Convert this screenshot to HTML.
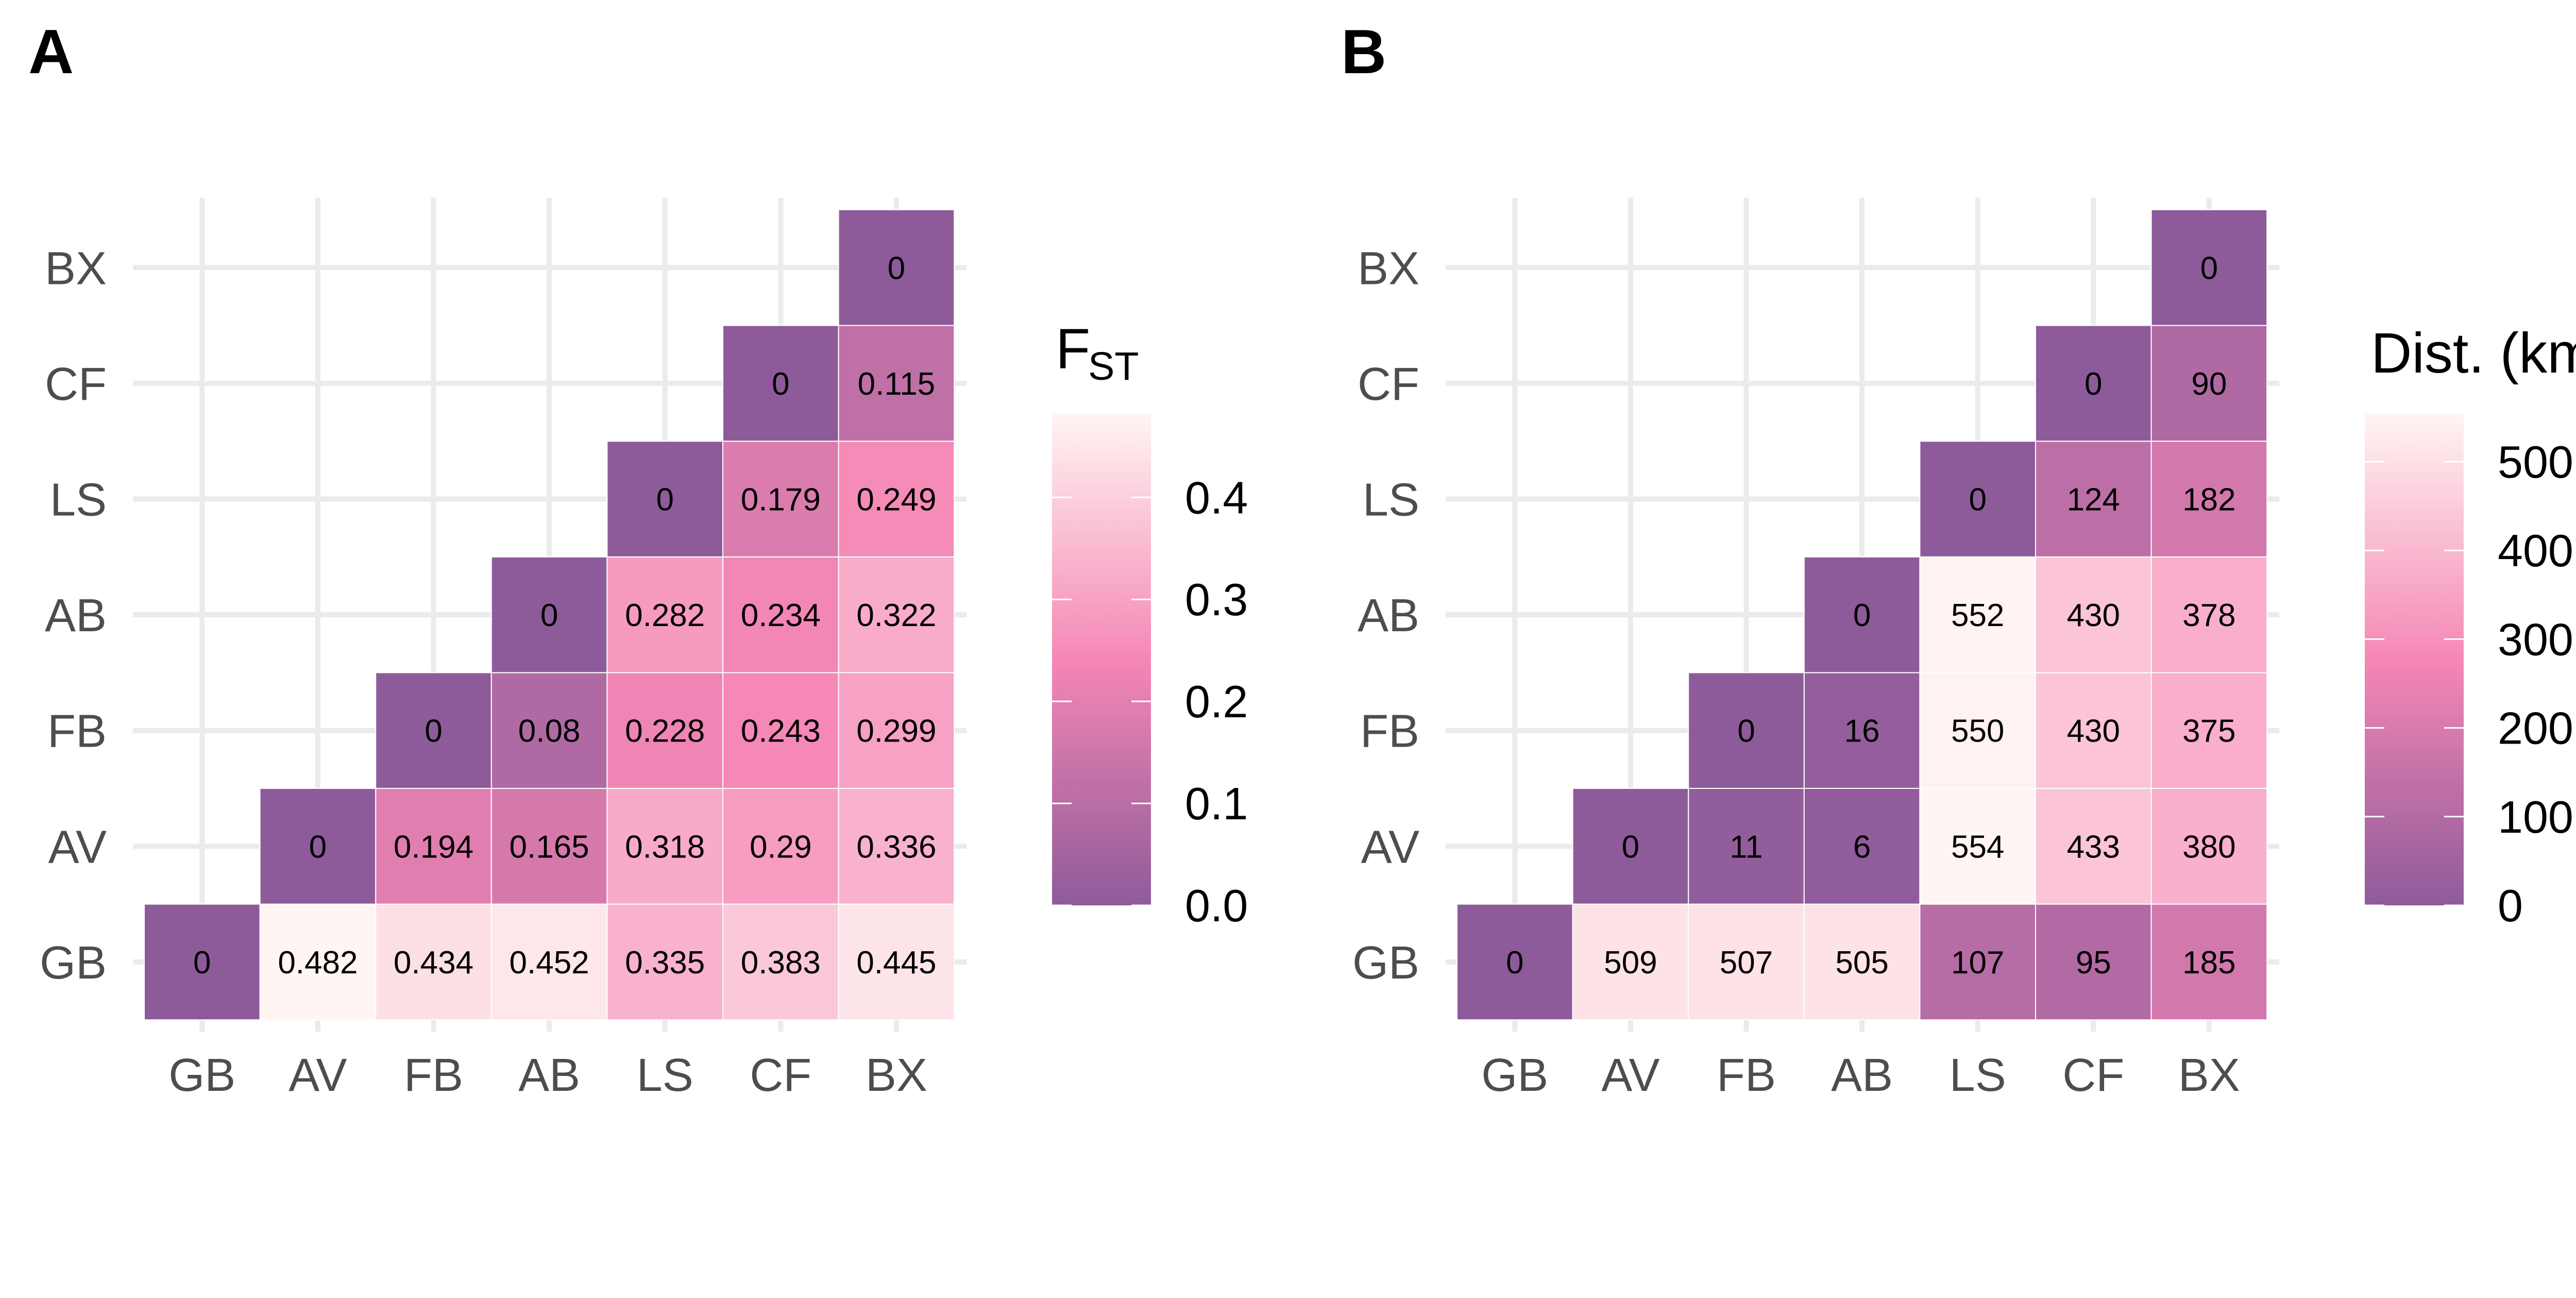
<!DOCTYPE html>
<html><head><meta charset="utf-8"><style>
html,body{margin:0;padding:0;background:#fff;}
svg{display:block;font-family:"Liberation Sans",sans-serif;}
</style></head><body>
<svg id="fig" xmlns="http://www.w3.org/2000/svg" width="5196" height="2519" viewBox="0 0 5196 2519">
<defs>
<linearGradient id="gradA" x1="0" y1="1" x2="0" y2="0">
<stop offset="0" stop-color="#8e5b9a"/><stop offset="0.5" stop-color="#f587b5"/><stop offset="1" stop-color="#fff5f2"/>
</linearGradient>
</defs>
<rect width="5196" height="2519" fill="#fff"/>
</svg>
<script>
const pops = ["GB","AV","FB","AB","LS","CF","BX"];
const fstRows = [
 [0,0.482,0.434,0.452,0.335,0.383,0.445],
 [0,0.194,0.165,0.318,0.29,0.336],
 [0,0.08,0.228,0.243,0.299],
 [0,0.282,0.234,0.322],
 [0,0.179,0.249],
 [0,0.115],
 [0]
];
const fstLabels = [
 ["0","0.482","0.434","0.452","0.335","0.383","0.445"],
 ["0","0.194","0.165","0.318","0.29","0.336"],
 ["0","0.08","0.228","0.243","0.299"],
 ["0","0.282","0.234","0.322"],
 ["0","0.179","0.249"],
 ["0","0.115"],
 ["0"]
];
const distRows = [
 [0,509,507,505,107,95,185],
 [0,11,6,554,433,380],
 [0,16,550,430,375],
 [0,552,430,378],
 [0,124,182],
 [0,90],
 [0]
];
const fstTicks = [0,0.1,0.2,0.3,0.4];
const fstTickLabels = ["0.0","0.1","0.2","0.3","0.4"];
const distTicks = [0,100,200,300,400,500];
const distTickLabels = ["0","100","200","300","400","500"];

const NS = "http://www.w3.org/2000/svg";
const svg = document.getElementById("fig");
function mk(tag, attrs, parent){
  const e = document.createElementNS(NS, tag);
  for (const k in attrs) e.setAttribute(k, attrs[k]);
  (parent||svg).appendChild(e);
  return e;
}
function hex(c){return [parseInt(c.slice(1,3),16),parseInt(c.slice(3,5),16),parseInt(c.slice(5,7),16)];}
const stops = [[0,hex("#8e5b9a")],[0.5,hex("#f587b5")],[1,hex("#fff5f2")]];
function colour(t){
  t = Math.max(0,Math.min(1,t));
  for (let i=0;i<stops.length-1;i++){
    const a=stops[i], b=stops[i+1];
    if (t<=b[0]){
      const f=(t-a[0])/(b[0]-a[0]);
      const c=a[1].map((v,j)=>Math.round(v+(b[1][j]-v)*f));
      return "rgb("+c.join(",")+")";
    }
  }
  return "rgb(255,245,242)";
}

function panel(offX, letter, rows, labels, maxV, ticks, tickLabels, pname){
  const g = mk("g", {});
  
  
  const x0 = 280+offX, y0 = 407, s = 224.6, n = pops.length;
  const cx = i => x0 + s*i + s/2;
  const cy = j => y0 + s*(n-1-j) + s/2;
  const t = mk("text", {x:55+offX, y:142, "font-size":122, "font-weight":"bold", fill:"#000"}, g);
  t.textContent = letter;
  
  
  // gridlines
  for (let i=0;i<n;i++){
    const v = mk("line", {x1:cx(i), x2:cx(i), y1:384, y2:2002, stroke:"#ebebeb", "stroke-width":10}, g);
    
    
    const h = mk("line", {x1:x0-22, x2:x0+s*n+24, y1:cy(i), y2:cy(i), stroke:"#ebebeb", "stroke-width":10}, g);
    
    
  }
  // tiles
  for (let r=0;r<rows.length;r++){
    for (let k=0;k<rows[r].length;k++){
      const c = r+k;
      const v = rows[r][k];
      const rect = mk("rect", {x:x0+s*c, y:y0+s*(n-1-r), width:s, height:s, fill:colour(v/maxV), stroke:"#ffffff", "stroke-width":2}, g);
      
      
      const tx = mk("text", {x:cx(c), y:cy(r)+22, "font-size":62, "text-anchor":"middle", fill:"#000"}, g);
      tx.textContent = labels ? labels[r][k] : String(v);
      
      
    }
  }
  // axis labels
  for (let i=0;i<n;i++){
    const yl = mk("text", {x:207+offX, y:cy(i)+32, "font-size":90, "text-anchor":"end", fill:"#4d4d4d"}, g);
    yl.textContent = pops[i];
    
    
    const xl = mk("text", {x:cx(i), y:2117, "font-size":90, "text-anchor":"middle", fill:"#4d4d4d"}, g);
    xl.textContent = pops[i];
    
    
  }
  // legend
  const lx = 2042+offX, lw = 192, ltop = 803, lbot = 1757;
  const ly = v => lbot - (v/maxV)*(lbot-ltop);
  const bar = mk("rect", {x:lx, y:ltop, width:lw, height:lbot-ltop, fill:"url(#gradA)"}, g);
  
  
  for (let i=0;i<ticks.length;i++){
    const yy = ly(ticks[i]);
    const a = mk("line", {x1:lx, x2:lx+38, y1:yy, y2:yy, stroke:"#fff", "stroke-width":3}, g);
    
    
    const b = mk("line", {x1:lx+lw-38, x2:lx+lw, y1:yy, y2:yy, stroke:"#fff", "stroke-width":3}, g);
    
    
    const tl = mk("text", {x:2300+offX, y:yy+31, "font-size":88, fill:"#000"}, g);
    tl.textContent = tickLabels[i];
    
    
  }
  return {g:g, lx:lx};
}

const pA = panel(0, "A", fstRows, fstLabels, 0.482, fstTicks, fstTickLabels, "panel-a-fst");
const tA = mk("text", {x:2049, y:715, "font-size":110, fill:"#000"}, pA.g);
tA.textContent = "F";


const tS = mk("text", {x:2112, y:737, "font-size":77, fill:"#000"}, pA.g);
tS.textContent = "ST";



const pB = panel(2548, "B", distRows, null, 554, distTicks, distTickLabels, "panel-b-distance");
const tB = mk("text", {x:4602, y:723, "font-size":110, fill:"#000"}, pB.g);
tB.textContent = "Dist. (km)";


</script>
</body></html>
